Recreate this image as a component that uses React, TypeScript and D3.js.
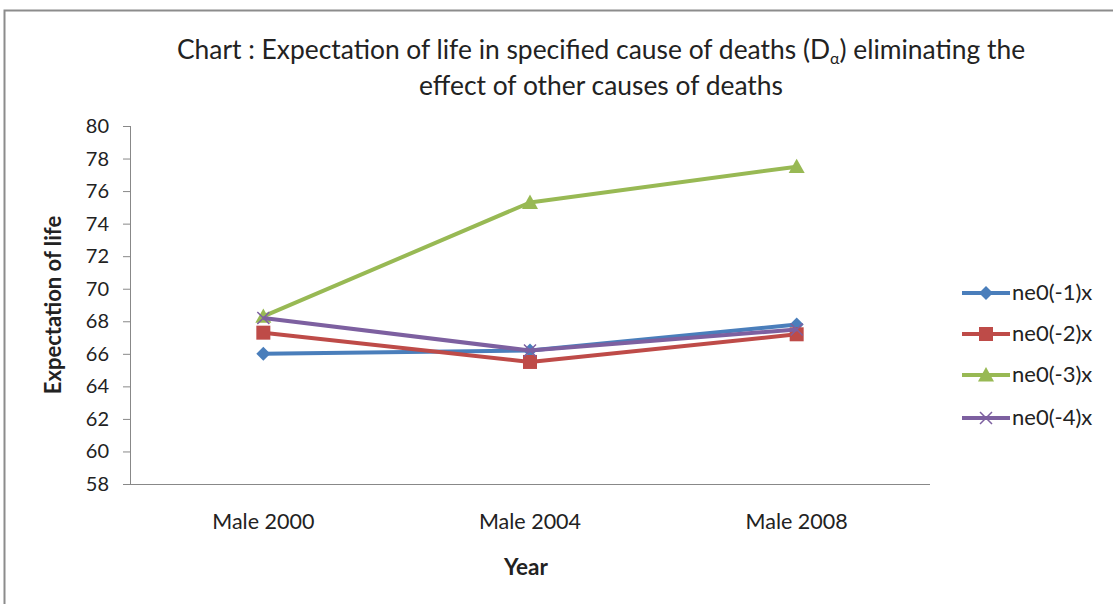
import React from "react";
import * as d3 from "d3";

const categories = ["Male 2000", "Male 2004", "Male 2008"];
const seriesNames = ["ne0(-1)x", "ne0(-2)x", "ne0(-3)x", "ne0(-4)x"];
const s1 = [66.0, 66.2, 67.8];
const s2 = [67.3, 65.5, 67.2];
const s3 = [68.3, 75.3, 77.5];
const s4 = [68.2, 66.2, 67.5];
const yTicks = [58, 60, 62, 64, 66, 68, 70, 72, 74, 76, 78, 80];
const colors = ["#4A7EBB", "#BE4B48", "#98B954", "#7D60A0"];
const markers = ["diamond", "square", "triangle", "x"];

const FONT = "Lato, 'Liberation Sans', sans-serif";

function Marker({ type, x, y, color }: { type: string; x: number; y: number; color: string }) {
  if (type === "diamond") {
    const r = 7;
    return <path d={`M${x},${y - r}L${x + r},${y}L${x},${y + r}L${x - r},${y}Z`} fill={color} />;
  }
  if (type === "square") {
    const r = 7;
    return <rect x={x - r} y={y - r} width={2 * r} height={2 * r} fill={color} />;
  }
  if (type === "triangle") {
    const r = 8;
    return <path d={`M${x},${y - r}L${x + r},${y + r * 0.8}L${x - r},${y + r * 0.8}Z`} fill={color} />;
  }
  const r = 6;
  return (
    <path d={`M${x - r},${y - r}L${x + r},${y + r}M${x - r},${y + r}L${x + r},${y - r}`} stroke={color} strokeWidth={1.5} fill="none" />
  );
}

export default function App() {
  const W = 1113, H = 604;
  const left = 130, right = 930, top = 126, bottom = 484;
  const x = d3.scaleBand().domain(categories).range([left, right]);
  const y = d3.scaleLinear().domain([58, 80]).range([bottom, top]);
  const data = [s1, s2, s3, s4];
  const line = d3
    .line<number>()
    .x((_, i) => (x(categories[i]) as number) + x.bandwidth() / 2)
    .y((d) => y(d));
  const legendY = [293, 334, 375, 418];

  return (
    <svg width={W} height={H} style={{ position: "absolute", left: 0, top: 0, background: "#fff" }}>
      <rect x={0} y={0} width={W} height={H} fill="#fff" />
      <path d={`M4.5,${H}V10.5H${W}`} stroke="#8c8c8c" strokeWidth={2} fill="none" />
      <text x={601} y={59} textAnchor="middle" fontFamily={FONT} fontSize={26.4} fill="#222">
        Chart : Expectation of life in specified cause of deaths (D
        <tspan fontSize={16} dy={5}>α</tspan>
        <tspan dy={-5}>) eliminating the</tspan>
      </text>
      <text x={601} y={95} textAnchor="middle" fontFamily={FONT} fontSize={26.4} fill="#222">
        effect of other causes of deaths
      </text>
      {/* y axis */}
      <line x1={left + 0.5} x2={left + 0.5} y1={top} y2={bottom} stroke="#888" />
      {yTicks.map((t) => (
        <g key={t}>
          <line x1={left - 7} x2={left} y1={y(t) + 0.5} y2={y(t) + 0.5} stroke="#888" />
          <text x={109} y={y(t) + 7} textAnchor="end" fontFamily={FONT} fontSize={20} fill="#222">
            {t}
          </text>
        </g>
      ))}
      <line x1={left} x2={right} y1={bottom + 0.5} y2={bottom + 0.5} stroke="#888" />
      {categories.map((c) => (
        <text key={c} x={(x(c) as number) + x.bandwidth() / 2} y={529} textAnchor="middle" fontFamily={FONT} fontSize={21.5} fill="#222">
          {c}
        </text>
      ))}
      <text x={526} y={575} textAnchor="middle" fontFamily={FONT} fontSize={22.5} fontWeight="bold" fill="#222">
        Year
      </text>
      <text transform={`translate(61,305) rotate(-90)`} textAnchor="middle" fontFamily={FONT} fontSize={22} fontWeight="bold" fill="#222">
        Expectation of life
      </text>
      {data.map((d, si) => (
        <g key={si}>
          <path d={line(d) as string} stroke={colors[si]} strokeWidth={4} fill="none" strokeLinejoin="round" />
          {d.map((v, i) => (
            <Marker key={i} type={markers[si]} x={(x(categories[i]) as number) + x.bandwidth() / 2} y={y(v)} color={colors[si]} />
          ))}
        </g>
      ))}
      {seriesNames.map((n, si) => (
        <g key={n}>
          <line x1={962} x2={1010} y1={legendY[si]} y2={legendY[si]} stroke={colors[si]} strokeWidth={4} />
          <Marker type={markers[si]} x={986} y={legendY[si]} color={colors[si]} />
          <text x={1012} y={legendY[si] + 7} fontFamily={FONT} fontSize={22} fill="#222">
            {n}
          </text>
        </g>
      ))}
    </svg>
  );
}
